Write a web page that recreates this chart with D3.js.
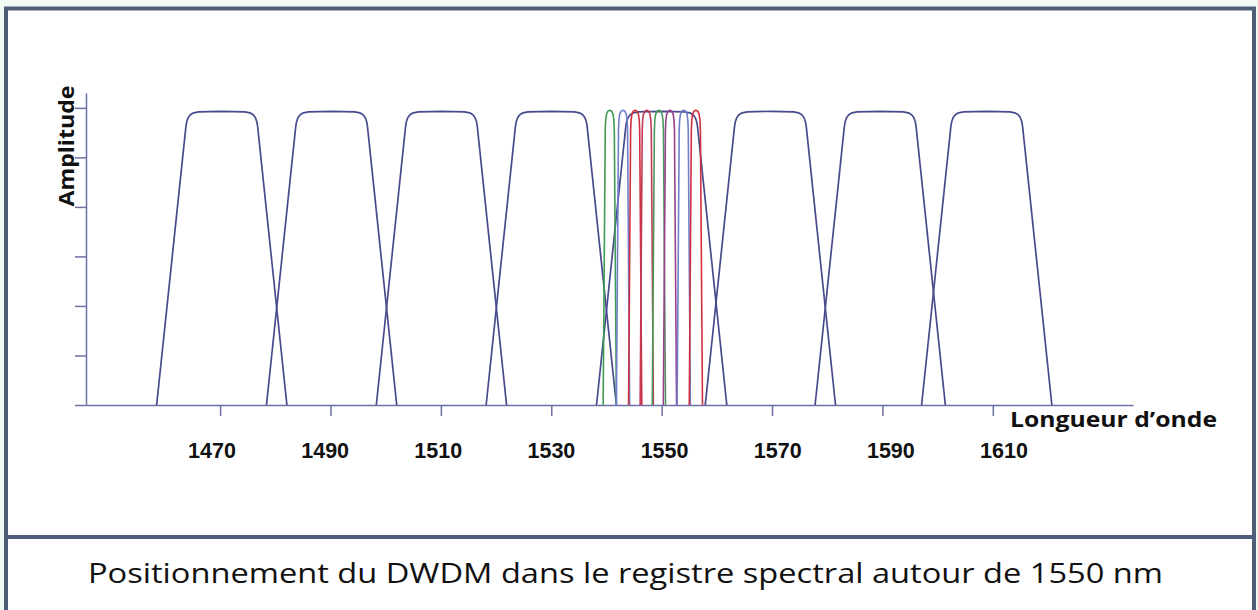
<!DOCTYPE html>
<html><head><meta charset="utf-8">
<script src="https://cdn.jsdelivr.net/npm/d3@7"></script>
<style>
html,body{margin:0;padding:0;background:#f2faf3;}
svg{display:block;}
</style></head>
<body>
<svg id="chart" width="1258" height="610"></svg>
<script>
// ---------- data ----------
const xTickValues = [1470, 1490, 1510, 1530, 1550, 1570, 1590, 1610];
const xTickLabels = ["1470", "1490", "1510", "1530", "1550", "1570", "1590", "1610"];
const yTickValues = [0, 1, 2, 3, 4, 5, 6];

// CWDM channels (nm)
const cwdmCenters = [1470.3, 1490.2, 1510.1, 1530.0, 1550.0, 1569.7, 1589.6, 1608.9];
// CWDM filter profile: [offset from centre (nm), amplitude]
const cwdmProfile = [[-11.8, 0], [-6.5, 5.62], [-6.35, 5.72], [-6.1, 5.8], [-5.7, 5.86], [-5.1, 5.9], [-4.2, 5.92], [0, 5.93],
                     [4.2, 5.92], [5.1, 5.9], [5.7, 5.86], [6.1, 5.8], [6.35, 5.72], [6.5, 5.62], [11.8, 0]];

// DWDM channels (nm) around 1550
const dwdmCenters = [1540.6, 1543.0, 1545.2, 1547.3, 1549.5, 1551.5, 1554.0, 1556.2];
const dwdmColors  = ["#3f9a55", "#6f7fcc", "#cf3040", "#c23a55", "#4a9a5e", "#9a3f8c", "#6f7fcc", "#cf3040"];
const dwdmProfile = [[-1.2, 0], [-0.82, 5.55], [-0.74, 5.75], [-0.6, 5.87], [-0.35, 5.93], [0, 5.95],
                     [0.35, 5.93], [0.6, 5.87], [0.74, 5.75], [0.82, 5.55], [1.2, 0]];

const yAxisTitle = "Amplitude";
const xAxisTitle = "Longueur d\u2019onde";
const caption = "Positionnement du DWDM dans le registre spectral autour de 1550 nm";

// ---------- layout ----------
const svg = d3.select("#chart");

// frame
svg.append("rect").attr("x", 6).attr("y", 8.5).attr("width", 1248).attr("height", 640)
  .attr("fill", "#ffffff").attr("stroke", "#4f5e78").attr("stroke-width", 4);
svg.append("line").attr("x1", 6).attr("x2", 1254).attr("y1", 537).attr("y2", 537)
  .attr("stroke", "#4f5b7c").attr("stroke-width", 4);

const x = d3.scaleLinear().domain([1445.7, 1635.4]).range([86, 1133]);
const y = d3.scaleLinear().domain([0, 6.3]).range([405, 93]);
const labelX = d3.scaleLinear().domain([1470, 1610]).range([212, 1004]);

const axisColor = "#6c70a2";

// x axis
const gx = svg.append("g").attr("transform", `translate(0,${y(0)})`)
  .call(d3.axisBottom(x).tickValues(xTickValues).tickSize(11).tickSizeOuter(0).tickFormat(""));
// y axis
const gy = svg.append("g").attr("transform", `translate(${x.range()[0]},0)`)
  .call(d3.axisLeft(y).tickValues(yTickValues).tickSize(11).tickSizeOuter(0).tickFormat(""));
[gx, gy].forEach(g => {
  g.selectAll("path,line").attr("stroke", axisColor).attr("stroke-width", 1.5);
});

// tick labels
svg.append("g").selectAll("text").data(xTickValues).join("text")
  .attr("x", d => labelX(d)).attr("y", 458)
  .attr("text-anchor", "middle")
  .attr("font-family", "'Liberation Sans', Arial, sans-serif")
  .attr("font-weight", "bold").attr("font-size", 21.5).attr("fill", "#111")
  .text((d, i) => xTickLabels[i]);

const line = d3.line().x(d => x(d[0])).y(d => y(d[1])).curve(d3.curveLinear);

// CWDM bands
svg.append("g").selectAll("path").data(cwdmCenters).join("path")
  .attr("d", c => line(cwdmProfile.map(p => [c + p[0], p[1]])))
  .attr("fill", "none").attr("stroke", "#464b8c").attr("stroke-width", 1.7)
  .attr("stroke-linejoin", "round");

// DWDM channels
svg.append("g").selectAll("path").data(dwdmCenters).join("path")
  .attr("d", c => line(dwdmProfile.map(p => [c + p[0], p[1]])))
  .attr("fill", "none").attr("stroke", (d, i) => dwdmColors[i]).attr("stroke-width", 1.6)
  .attr("stroke-linejoin", "round");

// titles
svg.append("text").attr("transform", "translate(74,146) rotate(-90)")
  .attr("text-anchor", "middle").attr("font-family", "'Open Sans', sans-serif")
  .attr("font-weight", "bold").attr("font-size", 21).attr("fill", "#111")
  .attr("textLength", 121).attr("lengthAdjust", "spacingAndGlyphs")
  .text(yAxisTitle);

svg.append("text").attr("x", 1010).attr("y", 427)
  .attr("font-family", "'Open Sans', sans-serif")
  .attr("font-weight", "bold").attr("font-size", 21).attr("fill", "#111")
  .attr("textLength", 207).attr("lengthAdjust", "spacingAndGlyphs")
  .text(xAxisTitle);

svg.append("text").attr("x", 88).attr("y", 583)
  .attr("font-family", "'Open Sans', sans-serif")
  .attr("font-size", 28).attr("fill", "#111")
  .attr("textLength", 1075).attr("lengthAdjust", "spacingAndGlyphs")
  .text(caption);
</script>
</body></html>
